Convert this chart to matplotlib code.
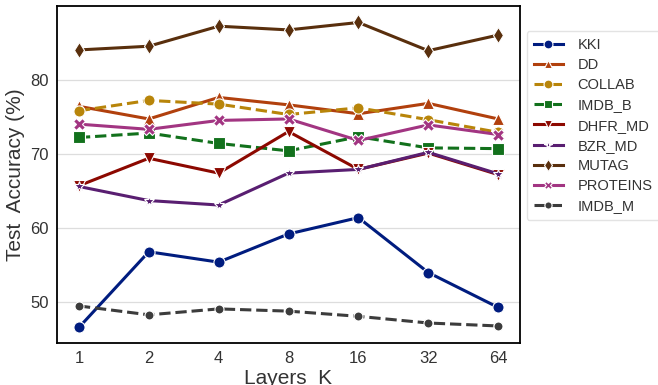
import numpy as np
import matplotlib
matplotlib.use("Agg")
import matplotlib.pyplot as plt

plt.rcParams['font.family'] = ['Liberation Sans', 'DejaVu Sans']

layers = ["1", "2", "4", "8", "16", "32", "64"]

kki = [46.6, 56.8, 55.4, 59.2, 61.4, 54.0, 49.3]
dd = [76.4, 74.7, 77.6, 76.6, 75.4, 76.8, 74.7]
collab = [75.8, 77.2, 76.7, 75.3, 76.2, 74.6, 72.9]
imdb_b = [72.2, 72.8, 71.4, 70.4, 72.3, 70.8, 70.7]
dhfr_md = [65.7, 69.4, 67.4, 73.0, 67.9, 70.1, 67.2]
bzr_md = [65.6, 63.7, 63.1, 67.4, 67.9, 70.2, 67.3]
mutag = [84.0, 84.5, 87.2, 86.7, 87.7, 83.9, 86.0]
proteins = [74.0, 73.3, 74.5, 74.7, 71.8, 73.9, 72.6]
imdb_m = [49.5, 48.3, 49.1, 48.8, 48.1, 47.2, 46.8]

series = [
    ("KKI", kki, "#001c7f", "o", "-", 8),
    ("DD", dd, "#b1400d", "^", "-", 8),
    ("COLLAB", collab, "#b8850a", "o", "--", 8),
    ("IMDB_B", imdb_b, "#12711c", "s", "--", 8),
    ("DHFR_MD", dhfr_md, "#8c0800", "v", "-", 8),
    ("BZR_MD", bzr_md, "#591e71", "*", "-", 7),
    ("MUTAG", mutag, "#592f0d", "d", "-", 8),
    ("PROTEINS", proteins, "#a23582", "X", "-", 8),
    ("IMDB_M", imdb_m, "#3c3c3c", "o", "--", 6.5),
]

fig = plt.figure(figsize=(6.58, 3.85), dpi=100)
ax = fig.add_axes([0.087, 0.109, 0.703, 0.875])

x = np.arange(len(layers))
for name, vals, col, mk, ls, ms in series:
    ax.plot(x, vals, color=col, marker=mk, linestyle=ls, linewidth=2.2,
            markersize=ms, markeredgecolor="white", markeredgewidth=0.8,
            label=name)

ax.set_xticks(x)
ax.set_xticklabels(layers)
ax.set_xlim(-0.31, 6.31)
ax.set_ylim(44.5, 89.9)
ax.set_yticks([50, 60, 70, 80])
ax.grid(axis="y", color="#dddddd", linewidth=0.9)
ax.set_axisbelow(True)
ax.tick_params(labelsize=12, colors="#333333", length=0, pad=6)
for s in ax.spines.values():
    s.set_color("black")
    s.set_linewidth(1.3)

ax.set_xlabel("Layers  K", fontsize=15, color="#333333", labelpad=2)
ax.set_ylabel("Test  Accuracy (%)", fontsize=15, color="#333333", labelpad=4)

leg = ax.legend(loc="upper left", bbox_to_anchor=(1.005, 0.94), fontsize=10.5,
                frameon=True, handlelength=2.0, handletextpad=1.0,
                labelspacing=0.42, borderpad=0.5, borderaxespad=0.3,
                markerscale=0.8)
leg.get_frame().set_edgecolor("#dddddd")
for t in leg.get_texts():
    t.set_color("#333333")

fig.savefig("out.png", dpi=100)
